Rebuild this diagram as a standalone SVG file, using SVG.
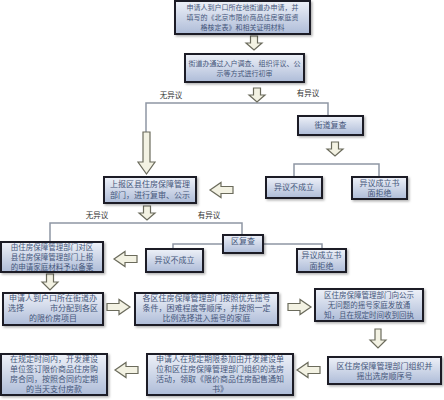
<svg xmlns="http://www.w3.org/2000/svg" xmlns:xlink="http://www.w3.org/1999/xlink" width="444" height="400" viewBox="0 0 444 400">
<style>
.box{fill:url(#g);stroke:#1c1f26;stroke-width:2;filter:url(#sh)}
.t{font-family:"Noto Sans CJK SC","Noto Sans",sans-serif;fill:#45567a;text-anchor:middle}
.s{font-size:8px}
.m{font-size:7px}
.c{font-size:7.5px}
.lb{font-family:"Noto Sans CJK SC","Noto Sans",sans-serif;font-size:7.5px;fill:#333;text-anchor:middle}
.ln{fill:none;stroke:#8f96a4;stroke-width:1.5}
.ar{fill:#f3f2e3;stroke:#6b6b5c;stroke-width:1.2;stroke-linejoin:miter}
</style>
<defs>
<linearGradient id="g" x1="0" y1="0" x2="0" y2="1">
<stop offset="0" stop-color="#eef1f8"/>
<stop offset="1" stop-color="#aebcd8"/>
</linearGradient>
<filter id="sh" x="-10%" y="-10%" width="130%" height="140%">
<feDropShadow dx="1.5" dy="1.5" stdDeviation="1" flood-color="#000" flood-opacity="0.3"/>
</filter>
<path id="ad" d="M-3.5,0 H3.5 V7 H8 L0,14 L-8,7 H-3.5 Z"/>
<path id="ar" d="M0,-3.5 H12 V-7.5 L23,0 L12,7.5 V3.5 H0 Z"/>
<path id="al" d="M0,-3.5 H-12 V-7.5 L-23,0 L-12,7.5 V3.5 H0 Z"/>
</defs>
<rect width="444" height="400" fill="#fff"/>

<g id="connectors">
<polyline class="ln" points="146,132 146,103 328,103 328,116"/>
<polyline class="ln" points="294,177 294,164 379,164 379,177"/>
<polyline class="ln" points="50,242 50,223 242,223 242,235"/>
<polyline class="ln" points="173,249 173,244 322,244 322,249"/>
<use href="#ad" class="ar" x="254" y="36"/>
<use href="#ad" class="ar" x="257" y="88"/>
<path class="ar" d="M143,132 H150 V162 H155 L146.5,174 L138,162 H143 Z"/>
<use href="#ad" class="ar" x="335" y="142"/>
<use href="#al" class="ar" x="233" y="190"/>
<use href="#ad" class="ar" x="147" y="206"/>
<use href="#al" class="ar" x="137" y="259"/>
<path class="ar" d="M46.5,274 H53.5 V282 H58 L50,290 L42,282 H46.5 Z"/>
<use href="#ar" class="ar" x="107" y="307"/>
<use href="#ar" class="ar" x="288" y="307"/>
<path class="ar" d="M375,329 H381 V340 H386 L378,348 L370,340 H375 Z"/>
<use href="#al" class="ar" x="320" y="370"/>
<use href="#al" class="ar" x="138" y="370"/>
<text class="lb" x="171" y="98">无异议</text>
<text class="lb" x="308" y="96">有异议</text>
<text class="lb" x="97" y="218">无异议</text>
<text class="lb" x="209" y="218">有异议</text>
</g>

<g id="n1"><rect class="box" x="175" y="1" width="135" height="33"/>
<text class="t m" x="242.5" y="10">申请人到户口所在地街道办申请，并</text>
<text class="t m" x="242.5" y="20">填写的《北京市限价商品住房家庭资</text>
<text class="t m" x="242.5" y="30">格核定表》和相关证明材料</text></g>

<g id="n2"><rect class="box" x="185" y="54" width="119" height="28"/>
<text class="t m" x="244.5" y="66">街道办通过入户调查、组织评议、公</text>
<text class="t m" x="244.5" y="76">示等方式进行初审</text></g>

<g id="n3"><rect class="box" x="298" y="116" width="65" height="19"/>
<text class="t s" x="330.5" y="128">街道复查</text></g>

<g id="n4"><rect class="box" x="266" y="177" width="56" height="21"/>
<text class="t s" x="294" y="190">异议不成立</text></g>

<g id="n5"><rect class="box" x="352" y="177" width="55" height="22"/>
<text class="t s" x="379.5" y="186">异议成立书</text>
<text class="t s" x="379.5" y="196">面拒绝</text></g>

<g id="n6"><rect class="box" x="104" y="177" width="92" height="26"/>
<text class="t s" x="150" y="187">上报区县住房保障管理</text>
<text class="t s" x="150" y="198">部门，进行复审、公示</text></g>

<g id="n7"><rect class="box" x="223" y="235" width="40" height="18"/>
<text class="t s" x="243" y="244">区复查</text></g>

<g id="n8"><rect class="box" x="146" y="249" width="57" height="23"/>
<text class="t s" x="174.5" y="263">异议不成立</text></g>

<g id="n9"><rect class="box" x="297" y="249" width="49" height="23"/>
<text class="t s" x="321.5" y="258">异议成立书</text>
<text class="t s" x="321.5" y="269">面拒绝</text></g>

<g id="n10"><rect class="box" x="1" y="242" width="102" height="30"/>
<text class="t c" x="52" y="250">由住房保障管理部门对区</text>
<text class="t c" x="52" y="260">县住房保障管理部门上报</text>
<text class="t c" x="52" y="270">的申请家庭材料予以备案</text></g>

<g id="n11"><rect class="box" x="3" y="293" width="100" height="32"/>
<text class="t s" x="53" y="301">申请人到户口所在街道办</text>
<text class="t s" x="8" y="311" style="text-anchor:start">选择</text>
<text class="t s" x="98" y="311" style="text-anchor:end">市分配到各区</text>
<text class="t s" x="53" y="321">的限价房项目</text></g>

<g id="n12"><rect class="box" x="135" y="293" width="143" height="32"/>
<text class="t s" x="206.5" y="301">各区住房保障管理部门按照优先摇号</text>
<text class="t s" x="206.5" y="311">条件，困难程度等顺序，并按照一定</text>
<text class="t s" x="206.5" y="321">比例选择进入摇号的家庭</text></g>

<g id="n13"><rect class="box" x="315" y="289" width="108" height="32"/>
<text class="t c" x="369" y="297.5">区住房保障管理部门向公示</text>
<text class="t c" x="369" y="307.5">无问题的摇号家庭发放通</text>
<text class="t c" x="369" y="317.5">知，且在规定时间收到回执</text></g>

<g id="n14"><rect class="box" x="328" y="357" width="113" height="27"/>
<text class="t s" x="384.5" y="369">区住房保障管理部门组织并</text>
<text class="t s" x="384.5" y="379">摇出选房顺序号</text></g>

<g id="n15"><rect class="box" x="147" y="354" width="146" height="41"/>
<text class="t s" x="220" y="362">申请人在规定期限参加由开发建设单</text>
<text class="t s" x="220" y="372">位和区住房保障管理部门组织的选房</text>
<text class="t s" x="220" y="382">活动，领取《限价商品住房配售通知</text>
<text class="t s" x="220" y="392">书》</text></g>

<g id="n16"><rect class="box" x="1" y="354" width="106" height="41"/>
<text class="t s" x="54" y="362">在规定时间内，开发建设</text>
<text class="t s" x="54" y="372">单位签订限价商品住房购</text>
<text class="t s" x="54" y="382">房合同，按照合同约定期</text>
<text class="t s" x="54" y="392">的当天支付房款</text></g>
</svg>
